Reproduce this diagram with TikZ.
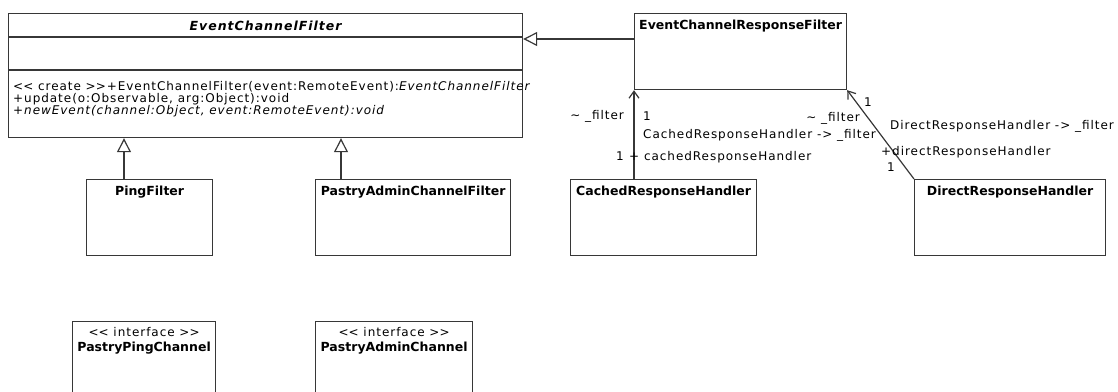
\documentclass[tikz,border=0pt]{standalone}
\usepackage{fontspec}
\setmainfont{DejaVu Sans}[LetterSpace=8,BoldFeatures={LetterSpace=0}]
\usepackage{tikz}
\usetikzlibrary{arrows.meta, positioning}
\definecolor{umlline}{RGB}{55,55,55}
\newcommand{\umlst}[1]{<\kern0pt<\ #1\ >\kern0pt>}
\tikzset{
  umlclass/.style={rectangle, draw=umlline, line width=1.2pt, anchor=north west,
    inner sep=0pt},
  classname/.style={font=\fontsize{12.5}{14}\selectfont\bfseries, inner sep=0pt},
  lbl/.style={font=\fontsize{12}{12}\selectfont, inner sep=0pt},
  inherit/.style={-{Triangle[open, length=14pt, width=14pt]}, line width=1.2pt, color=umlline},
  navarrow/.style={-{Straight Barb[length=7pt, width=10pt]}, line width=1.2pt, color=umlline},
  compline/.style={line width=1.2pt, color=umlline}
}

\begin{document}
\begin{tikzpicture}[x=1pt, y=-1pt]
  \clip (0,0) rectangle (1118,391);

  % --- EventChannelFilter (abstract) ---
  \node[umlclass, minimum width=514pt, minimum height=124pt] (ecf) at (8,13) {};
  \node[classname, font=\fontsize{12.5}{14}\selectfont\bfseries\itshape] at ([yshift=-13pt]ecf.north) {EventChannelFilter};
  \draw[compline] (ecf.west |- 0,37) -- (ecf.east |- 0,37);
  \draw[compline] (ecf.west |- 0,70) -- (ecf.east |- 0,70);
  \node[lbl, anchor=north west, align=left] (ecfops) at (13,81.5)
    {\umlst{create}+EventChannelFilter(event:RemoteEvent):\textit{EventChannelFilter}\\
     +update(o:Observable, arg:Object):void\\
     \textit{+newEvent(channel:Object, event:RemoteEvent):void}};

  % --- EventChannelResponseFilter ---
  \node[umlclass, minimum width=212pt, minimum height=76pt] (ecrf) at (634,13) {};
  \node[classname] at ([yshift=-13pt]ecrf.north) {EventChannelResponseFilter};

  % --- subclasses ---
  \node[umlclass, minimum width=126pt, minimum height=76pt] (ping) at (86,179) {};
  \node[classname] at ([yshift=-13pt]ping.north) {PingFilter};
  \node[umlclass, minimum width=195pt, minimum height=76pt] (pacf) at (315,179) {};
  \node[classname] at ([yshift=-13pt]pacf.north) {PastryAdminChannelFilter};

  % --- handlers ---
  \node[umlclass, minimum width=186pt, minimum height=76pt] (cached) at (570,179) {};
  \node[classname] at ([yshift=-13pt]cached.north) {CachedResponseHandler};
  \node[umlclass, minimum width=191pt, minimum height=76pt] (direct) at (914,179) {};
  \node[classname] at ([yshift=-13pt]direct.north) {DirectResponseHandler};

  % --- interfaces ---
  \node[umlclass, minimum width=143pt, minimum height=90pt] (ppc) at (72,321) {};
  \node[lbl] at ([yshift=-11pt]ppc.north) {\umlst{interface}};
  \node[classname] at ([yshift=-27pt]ppc.north) {PastryPingChannel};
  \node[umlclass, minimum width=157pt, minimum height=90pt] (pac) at (315,321) {};
  \node[lbl] at ([yshift=-11pt]pac.north) {\umlst{interface}};
  \node[classname] at ([yshift=-27pt]pac.north) {PastryAdminChannel};

  % Generalizations
  \coordinate (pingup) at ([xshift=38pt]ping.north west);
  \coordinate (pacfup) at ([xshift=26pt]pacf.north west);
  \draw[inherit] (pingup) -- (pingup |- ecf.south);
  \draw[inherit] (pacfup) -- (pacfup |- ecf.south);
  \draw[inherit] ([yshift=-26pt]ecrf.north west) -- ([yshift=-26pt]ecf.north east);

  % Associations
  \draw[navarrow] (cached.north -| ecrf.south west) -- (ecrf.south west);
  \draw[navarrow] (direct.north west) -- (ecrf.south east);

  % Role names and multiplicities
  \node[lbl, anchor=east] at (624,116) {\textasciitilde\ \_filter};
  \node[lbl] at (647,116) {1};
  \node[lbl, anchor=west] at (643,135) {CachedResponseHandler -> \_filter};
  \node[lbl] at (620,156) {1};
  \node[lbl, anchor=west] at (629,157) {+ cachedResponseHandler};
  \node[lbl, anchor=east] at (860,118) {\textasciitilde\ \_filter};
  \node[lbl] at (868,102) {1};
  \node[lbl, anchor=west] at (890,126) {DirectResponseHandler -> \_filter};
  \node[lbl, anchor=west] at (881,152) {+directResponseHandler};
  \node[lbl] at (891,167) {1};
\end{tikzpicture}
\end{document}
